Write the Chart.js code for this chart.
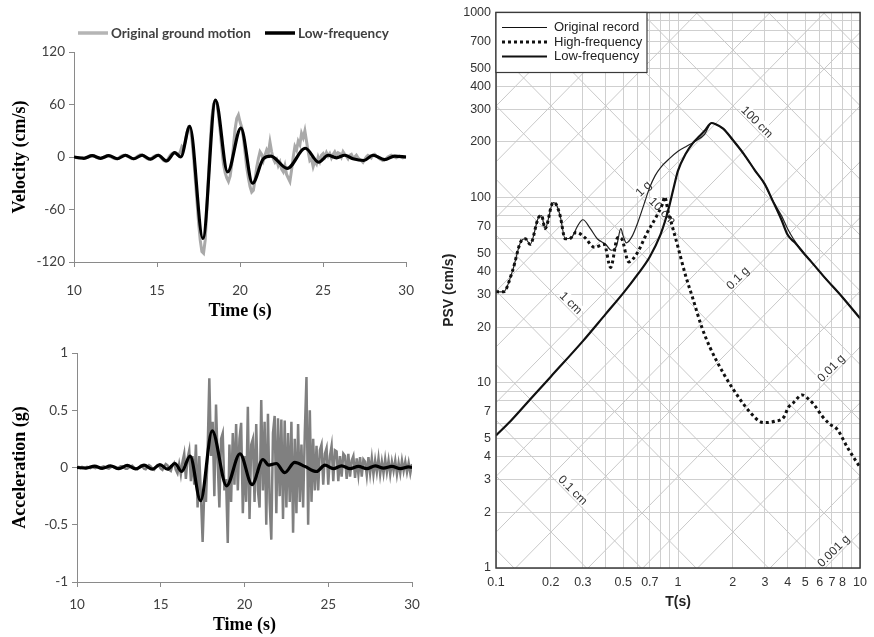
<!DOCTYPE html>
<html>
<head>
<meta charset="utf-8">
<script src="https://cdn.jsdelivr.net/npm/chart.js@4.4.1/dist/chart.umd.min.js"></script>
<style>
    html, body { margin: 0; padding: 0; background: #fff; }
    #wrap { position: relative; width: 874px; height: 637px; overflow: hidden; }
    canvas { position: absolute; }
    #velChart { left: 0; top: 0; }
    #accChart { left: 0; top: 325px; }
    #psvChart { left: 430px; top: 0; }
</style>
</head>
<body>
<div id="wrap">
    <canvas id="velChart" width="430" height="325"></canvas>
    <canvas id="accChart" width="430" height="312"></canvas>
    <canvas id="psvChart" width="444" height="637"></canvas>
</div>
<script>
// ---- time histories (sampled every 0.1 s from 10 s) ----
const sampleStart = 10;
const sampleStep = 0.1;

const velOriginal = [
    0, -0.5, -1, -1.5, -1.5, -1, -1.5, -1, 0, 1,
    1.5, 1.5, 1, 0, -1, -1.5, -1.5, -1, 0, 1,
    1.5, 1.5, 0.5, -0.5, -1.5, -2, -2, -1, 0.5, 1.5,
    2, 2, 1, 0, -1, -2, -2, -1, 0.5, 1.5,
    2.5, 2.5, 1, -0.5, -2, -2.5, -2.5, -1, 0.5, 1.5,
    2, 2, 0, -2, -4, -5, -4, -1, 2, 4,
    5, 5, 3, 2, 6, 12, 10, 18, 28, 34,
    33, 20, 0, -25, -50, -75, -95, -108, -110, -95,
    -60, -20, 15, 45, 60, 64, 62, 48, 30, 10,
    -8, -18, -24, -28, -22, -8, 12, 32, 44, 48,
    40, 34, 22, 5, -12, -24, -34, -40, -38, -26,
    -12, -2, 6, 3, -4, 2, 8, 4, 17, 6,
    -2, -6, -3, -10, -6, -14, -17, -10, -20, -24,
    -28, -15, 0, 12, 8, 18, 14, 27, 22, 30,
    18, 6, -4, -2, -11, -5, -8, 0, -5, 2,
    4, 0, 5, 1, 4, -1, 3, 6, 2, 5,
    4, 0, 6, 3, 1, -2, 2, 3, -1, 0,
    2, -1, -3, -4, -6, -3, 0, 2, 1, -1,
    2, 3, 1, 0, -2, -3, -4, -3, -2, 0,
    1, 2, 1, 0, -1, 0, 1, 0, -1, 0,
    0
];

const accOriginal = [
    0, 0.005, -0.005, 0.005, 0, -0.005, 0.005, 0, -0.005, 0.005,
    0, -0.005, 0.005, 0, -0.005, 0.005, 0.01, 0, -0.005, -0.01,
    0, 0.01, 0.005, -0.005, -0.01, 0, 0.01, 0.01, 0, -0.01,
    -0.01, 0, 0.01, 0.015, 0, -0.01, -0.015, 0, 0.015, 0.01,
    -0.01, -0.015, 0.005, 0.02, 0.01, -0.01, -0.02, 0, 0.02, 0.015,
    -0.01, -0.02, 0.01, 0.03, 0.02, -0.02, -0.03, 0.02, 0.04, -0.02,
    -0.05, 0.03, -0.06, 0.05, 0.12, -0.1, 0.08, 0.15, -0.12, 0.1,
    -0.15, 0.2, -0.35, 0.1, -0.25, -0.65, -0.2, -0.3, 0.15, 0.78,
    0.1, 0.4, -0.25, 0.55, 0.05, -0.35, 0.25, 0.3, -0.2, -0.1,
    -0.66, 0.2, -0.3, 0.3, -0.15, 0.38, -0.2, 0.25, 0.39, -0.4,
    0.1, -0.3, 0.53, -0.45, 0.2, 0.25, -0.3, 0.38, -0.2, -0.35,
    0.59, -0.2, 0.4, -0.5, 0.47, -0.3, -0.63, 0.3, 0.45, -0.4,
    0.43, -0.25, 0.42, -0.45, 0.41, -0.35, 0.3, -0.3, 0.4, -0.57,
    0.25, -0.4, 0.38, -0.3, 0.2, -0.35, 0.3, 0.79, -0.5, 0.5,
    -0.3, 0.25, -0.2, 0.19, -0.2, 0.15, 0.2, -0.15, 0.12, 0.17,
    -0.15, 0.1, 0.19, -0.12, 0.15, 0.14, -0.12, 0.1, -0.08, 0.12,
    0.1, -0.1, 0.12, -0.08, 0.06, 0.1, -0.09, 0.08, -0.06, 0.09,
    -0.08, 0.07, 0.05, -0.07, 0.09, -0.05, 0.08, -0.06, 0.06, -0.04,
    0.08, -0.06, 0.05, -0.05, 0.07, -0.04, 0.06, -0.06, 0.05, -0.03,
    0.06, -0.06, 0.04, -0.05, 0.06, -0.03, 0.05, -0.04, 0.04, -0.05,
    0.03
];

// low-frequency components (turning points)
const velLowTime = [10, 10.6, 11.1, 11.6, 12.1, 12.6, 13.1, 13.6, 14.1, 14.6, 15.07, 15.57, 16.07, 16.43,
    16.97, 17.76, 18.52, 19.25, 20.05, 20.75, 21.4, 21.85, 22.84, 23.93, 24.73, 25.3, 25.8, 26.3,
    26.8, 27.45, 28.0, 28.7, 29.3, 30];
const velLow = [0, -1.5, 1.5, -1.5, 1.5, -2, 2, -2, 2, -2.5, 2, -4.5, 5, 0,
    35, -93, 65, -17, 33, -30, -2, 1, -13, 10, -6, 2, -1, 2,
    -2, -4, 2, -3, 1, 0];

const accLowTime = [10, 10.55, 11.05, 11.5, 12.0, 12.5, 13.0, 13.5, 14.0, 14.5, 14.95, 15.4, 15.85, 16.25,
    16.75, 17.38, 18.07, 18.93, 19.73, 20.45, 21.1, 21.45, 21.9, 22.4, 23.0, 23.6, 24.3, 24.8,
    25.3, 25.8, 26.3, 26.8, 27.3, 27.8, 28.3, 28.8, 29.3, 29.8, 30];
const accLow = [0, -0.005, 0.012, -0.008, 0.015, -0.01, 0.018, -0.012, 0.02, -0.015, 0.025, -0.015, 0.035, -0.035,
    0.1, -0.29, 0.32, -0.16, 0.12, -0.15, 0.07, 0.02, 0.035, -0.045, 0.045, 0.01, -0.035, 0.02,
    -0.01, 0.015, -0.01, 0.01, -0.01, 0.015, -0.005, 0.01, -0.01, 0.005, 0];

const timeTicks = [10, 15, 20, 25, 30];
const velTicks = [-120, -60, 0, 60, 120];
const accTicks = [-1, -0.5, 0, 0.5, 1];

// ---- pseudo-velocity spectra ----
const origPeriod = [0.1, 0.11, 0.123, 0.137, 0.145, 0.154, 0.171, 0.178, 0.186, 0.206, 0.214, 0.225, 0.24, 0.26,
    0.28, 0.3, 0.33, 0.36, 0.4, 0.43, 0.46, 0.485, 0.5, 0.52, 0.56, 0.6, 0.65, 0.7, 0.75, 0.8, 0.9, 1.0,
    1.12, 1.25, 1.4, 1.53, 1.6, 1.77, 2.0, 2.3, 2.65, 3.0, 3.3, 3.7, 4.0, 4.3, 4.7, 5.4, 6.4, 8.0, 10];
const origPSV = [31, 31, 40, 58, 60, 56, 78, 80, 68, 94, 92, 80, 60, 61,
    70, 76, 68, 60, 56, 52, 55, 68, 62, 57, 62, 73, 92, 114, 132, 145, 163, 178,
    190, 202, 220, 253, 250, 236, 205, 172, 140, 118, 97, 80, 68, 60, 53, 45, 37, 29, 22.3];

const highPeriod = [0.1, 0.11, 0.123, 0.137, 0.145, 0.154, 0.171, 0.178, 0.186, 0.206, 0.214, 0.225, 0.24, 0.253,
    0.276, 0.307, 0.347, 0.393, 0.426, 0.467, 0.49, 0.536, 0.595, 0.673, 0.76, 0.82, 0.846, 0.88, 0.93,
    1.0, 1.1, 1.2, 1.35, 1.5, 1.8, 2.2, 2.5, 2.8, 3.0, 3.4, 3.8, 4.05, 4.3, 4.8, 5.2, 5.6, 6.2, 6.8,
    7.5, 8.5, 9.3, 10];
const highPSV = [31, 31, 40, 58, 60, 56, 78, 80, 68, 94, 92, 80, 60, 60,
    65, 61, 54, 56, 42, 61, 60, 45, 50, 64, 79, 92, 101, 85, 70,
    54, 38, 29, 20, 15.5, 11, 8.1, 6.9, 6.2, 6.1, 6.2, 6.5, 7.4, 7.8, 8.6, 8.2, 7.6, 6.6, 6.0,
    5.6, 4.5, 3.9, 3.5];

const lowPeriod = [0.1, 0.12, 0.15, 0.2, 0.3, 0.4, 0.5, 0.6, 0.7, 0.8, 0.85, 0.9, 0.95, 1.0, 1.1, 1.2, 1.3,
    1.4, 1.53, 1.6, 1.77, 2.0, 2.3, 2.65, 3.0, 3.3, 3.7, 4.0, 4.4, 5.0, 5.4, 6.4, 8.0, 10];
const lowPSV = [5.2, 6.2, 7.9, 10.8, 16.8, 23.5, 30.5, 38.5, 48, 63, 75, 92, 115, 140, 172, 196, 213,
    230, 253, 250, 236, 205, 172, 140, 118, 97, 76, 63, 57, 49, 45, 37, 29, 22.3];

const periodLabels = [0.1, 0.2, 0.3, 0.5, 0.7, 1, 2, 3, 4, 5, 6, 7, 8, 10];
const psvLabels = [1, 2, 3, 4, 5, 7, 10, 20, 30, 40, 50, 70, 100, 200, 300, 400, 500, 700, 1000];
const dispLevels = [0.02, 0.05, 0.1, 0.2, 0.5, 1, 2, 5, 10, 20, 50, 100, 200, 500, 1000];   // cm
const accelLevels = [0.001, 0.002, 0.005, 0.01, 0.02, 0.05, 0.1, 0.2, 0.5, 1, 2, 5, 10, 20, 50]; // g

// --------------------------------------------------------------
const G = 981;
const TWO_PI = 2 * Math.PI;

function sampled(values) {
    return values.map((v, i) => ({ x: sampleStart + i * sampleStep, y: v }));
}
function paired(xs, ys) {
    return xs.map((x, i) => ({ x: x, y: ys[i] }));
}

// every integer multiple inside each decade, for the grid
function decadeGrid(min, max) {
    const out = [];
    for (let d = min; d < max; d *= 10) {
        for (let k = 1; k <= 9; k++) out.push(+(k * d).toPrecision(3));
    }
    out.push(max);
    return out;
}

const lineLegend = {
    id: 'lineLegend',
    afterDraw(chart, args, opts) {
        if (!opts.items) return;
        const ctx = chart.ctx;
        ctx.save();
        ctx.font = opts.font;
        ctx.textBaseline = 'middle';
        opts.items.forEach(it => {
            const ds = chart.data.datasets[it.ds];
            ctx.strokeStyle = it.color || ds.borderColor;
            ctx.lineWidth = it.width;
            ctx.beginPath();
            ctx.moveTo(it.x, opts.y);
            ctx.lineTo(it.x + opts.sample, opts.y);
            ctx.stroke();
            ctx.fillStyle = opts.color;
            ctx.fillText(ds.label, it.x + opts.sample + opts.gap, opts.y + 1);
        });
        ctx.restore();
    }
};

function timeChart(id, cfg) {
    const axisColor = '#8a8a8a';
    return new Chart(document.getElementById(id), {
        type: 'line',
        data: {
            datasets: [{
                label: 'Low-frequency',
                data: cfg.low,
                borderColor: '#000',
                borderWidth: 3.2,
                pointRadius: 0,
                cubicInterpolationMode: 'monotone',
                fill: false
            }, {
                label: 'Original ground motion',
                data: cfg.orig,
                borderColor: cfg.grey,
                borderWidth: cfg.greyWidth,
                pointRadius: 0,
                tension: 0,
                fill: false
            }]
        },
        options: {
            responsive: false,
            animation: false,
            events: [],
            layout: { padding: cfg.padding },
            plugins: {
                legend: { display: false },
                tooltip: { enabled: false },
                lineLegend: cfg.legend || {}
            },
            scales: {
                x: {
                    type: 'linear',
                    min: 10,
                    max: 30,
                    afterBuildTicks: s => { s.ticks = timeTicks.map(v => ({ value: v })); },
                    afterFit: s => { s.height = cfg.xHeight; },
                    grid: { drawOnChartArea: false, tickLength: 5, color: axisColor },
                    border: { display: true, color: axisColor, width: 1 },
                    ticks: { padding: cfg.xPad, color: '#404040', font: { family: 'Lato', size: 13.5 } },
                    title: {
                        display: true,
                        text: 'Time (s)',
                        color: '#000',
                        font: { family: 'Liberation Serif', size: 18, weight: 'bold' },
                        padding: { top: 0, bottom: cfg.xTitlePad }
                    }
                },
                y: {
                    min: cfg.ticks[0],
                    max: cfg.ticks[cfg.ticks.length - 1],
                    afterBuildTicks: s => { s.ticks = cfg.ticks.map(v => ({ value: v })); },
                    afterFit: s => { s.width = cfg.yWidth; },
                    grid: { drawOnChartArea: false, tickLength: 5, color: axisColor },
                    border: { display: true, color: axisColor, width: 1 },
                    ticks: {
                        padding: 4,
                        color: '#404040',
                        font: { family: 'Lato', size: 13.5 },
                        callback: v => String(v)
                    },
                    title: {
                        display: true,
                        text: cfg.title,
                        color: '#000',
                        font: { family: 'Liberation Serif', size: 18, weight: 'bold' },
                        padding: { top: 10, bottom: 0 }
                    }
                }
            }
        },
        plugins: [lineLegend]
    });
}

timeChart('velChart', {
    low: paired(velLowTime, velLow),
    orig: sampled(velOriginal),
    grey: '#a9a9a9',
    greyWidth: 3,
    ticks: velTicks,
    title: 'Velocity (cm/s)',
    padding: { top: 52, right: 20, left: 0, bottom: 0 },
    yWidth: 74,
    xHeight: 63,
    xPad: 16,
    xTitlePad: 3,
    legend: {
        y: 33,
        sample: 30,
        gap: 3,
        font: 'bold 13.5px Lato',
        color: '#404040',
        items: [{ ds: 1, x: 78, width: 3.5, color: '#b5b5b5' }, { ds: 0, x: 265, width: 3.5 }]
    }
});

timeChart('accChart', {
    low: paired(accLowTime, accLow),
    orig: sampled(accOriginal),
    grey: '#808080',
    greyWidth: 2.5,
    ticks: accTicks,
    title: 'Acceleration (g)',
    padding: { top: 28, right: 18, left: 0, bottom: 0 },
    yWidth: 77,
    xHeight: 55,
    xPad: 10,
    xTitlePad: 1
});

// ---- tripartite spectrum ----
const diagLabels = [
    { text: '100 cm', kind: 'disp', level: 100, at: 2.58 },
    { text: '10 cm', kind: 'disp', level: 10, at: 0.78 },
    { text: '1 cm', kind: 'disp', level: 1, at: 0.245 },
    { text: '0.1 cm', kind: 'disp', level: 0.1, at: 0.251 },
    { text: '1 g', kind: 'acc', level: 1, at: 0.68 },
    { text: '0.1 g', kind: 'acc', level: 0.1, at: 2.24 },
    { text: '0.01 g', kind: 'acc', level: 0.01, at: 7.3 },
    { text: '0.001 g', kind: 'acc', level: 0.001, at: 7.52 }
];

function psvOf(kind, level, T) {
    return kind === 'disp' ? TWO_PI * level / T : level * G * T / TWO_PI;
}

const tripartite = {
    id: 'tripartite',
    beforeDatasetsDraw(chart) {
        const { ctx, chartArea: a, scales: { x, y } } = chart;
        const px = (kind, level, T) => ({ x: x.getPixelForValue(T), y: y.getPixelForValue(psvOf(kind, level, T)) });
        ctx.save();
        ctx.beginPath();
        ctx.rect(a.left, a.top, a.right - a.left, a.bottom - a.top);
        ctx.clip();
        ctx.strokeStyle = '#c9c9c9';
        ctx.lineWidth = 1;
        [['disp', dispLevels], ['acc', accelLevels]].forEach(([kind, levels]) => {
            levels.forEach(lv => {
                const p0 = px(kind, lv, 0.1), p1 = px(kind, lv, 10);
                ctx.beginPath();
                ctx.moveTo(p0.x, p0.y);
                ctx.lineTo(p1.x, p1.y);
                ctx.stroke();
            });
        });
        ctx.font = '12px "Liberation Sans", Arial';
        ctx.textAlign = 'center';
        ctx.textBaseline = 'alphabetic';
        diagLabels.forEach(lb => {
            const p = px(lb.kind, lb.level, lb.at);
            const ang = lb.kind === 'disp' ? Math.PI / 4 : -Math.PI / 4;
            const w = ctx.measureText(lb.text).width;
            ctx.save();
            ctx.translate(p.x, p.y);
            ctx.rotate(ang);
            ctx.fillStyle = '#fff';
            ctx.fillRect(-w / 2 - 1, -12, w + 2, 11);
            ctx.fillStyle = '#333';
            ctx.fillText(lb.text, 0, -2);
            ctx.restore();
        });
        ctx.restore();
    },
    afterDraw(chart) {
        const { ctx, chartArea: a } = chart;
        ctx.save();
        ctx.strokeStyle = '#3a3a3a';
        ctx.lineWidth = 1.5;
        ctx.strokeRect(a.left, a.top, a.right - a.left, a.bottom - a.top);

        // legend box in the upper-left corner
        const bx = a.left, by = a.top, bw = 151, bh = 60;
        ctx.fillStyle = '#fff';
        ctx.fillRect(bx, by, bw, bh);
        ctx.lineWidth = 1.2;
        ctx.strokeRect(bx, by, bw, bh);
        ctx.font = '13px "Liberation Sans", Arial';
        ctx.textBaseline = 'middle';
        const rows = [2, 1, 0];
        rows.forEach((di, r) => {
            const ds = chart.data.datasets[di];
            const yy = by + 15 + r * 14.5;
            ctx.strokeStyle = '#111';
            ctx.lineWidth = ds.borderWidth;
            ctx.setLineDash(ds.borderDash || []);
            ctx.beginPath();
            ctx.moveTo(bx + 6, yy);
            ctx.lineTo(bx + 51, yy);
            ctx.stroke();
            ctx.setLineDash([]);
            ctx.fillStyle = '#222';
            ctx.fillText(ds.label, bx + 58, yy);
        });
        ctx.restore();
    }
};

const periodGrid = decadeGrid(0.1, 10);
const psvGrid = decadeGrid(1, 1000);

new Chart(document.getElementById('psvChart'), {
    type: 'line',
    data: {
        datasets: [{
            label: 'Low-frequency',
            data: paired(lowPeriod, lowPSV),
            borderColor: '#111',
            borderWidth: 2.2,
            pointRadius: 0,
            cubicInterpolationMode: 'monotone'
        }, {
            label: 'High-frequency',
            data: paired(highPeriod, highPSV),
            borderColor: '#111',
            borderWidth: 3,
            borderDash: [3, 3],
            pointRadius: 0,
            cubicInterpolationMode: 'monotone'
        }, {
            label: 'Original record',
            data: paired(origPeriod, origPSV),
            borderColor: '#222',
            borderWidth: 1.2,
            pointRadius: 0,
            cubicInterpolationMode: 'monotone'
        }]
    },
    options: {
        responsive: false,
        animation: false,
        events: [],
        layout: { padding: { top: 11, right: 8, left: 0, bottom: 0 } },
        plugins: { legend: { display: false }, tooltip: { enabled: false } },
        scales: {
            x: {
                type: 'logarithmic',
                min: 0.1,
                max: 10,
                afterBuildTicks: s => { s.ticks = periodGrid.map(v => ({ value: v })); },
                afterFit: s => { s.height = 69; },
                grid: { color: '#cfcfcf', drawTicks: false },
                border: { display: false },
                ticks: {
                    autoSkip: false,
                    maxRotation: 0,
                    padding: 7,
                    color: '#333',
                    font: { family: 'Liberation Sans', size: 12.5 },
                    callback: v => periodLabels.includes(v) ? String(v) : ''
                },
                title: {
                    display: true,
                    text: 'T(s)',
                    color: '#222',
                    font: { family: 'Liberation Sans', size: 14, weight: 'bold' },
                    padding: { top: 0, bottom: 26 }
                }
            },
            y: {
                type: 'logarithmic',
                min: 1,
                max: 1000,
                afterBuildTicks: s => { s.ticks = psvGrid.map(v => ({ value: v })); },
                afterFit: s => { s.width = 66; },
                grid: { color: '#cfcfcf', drawTicks: false },
                border: { display: false },
                ticks: {
                    autoSkip: false,
                    padding: 5,
                    color: '#333',
                    font: { family: 'Liberation Sans', size: 12.5 },
                    callback: v => psvLabels.includes(v) ? String(v) : ''
                },
                title: {
                    display: true,
                    text: 'PSV (cm/s)',
                    color: '#222',
                    font: { family: 'Liberation Sans', size: 14, weight: 'bold' },
                    padding: { top: 11, bottom: 0 }
                }
            }
        }
    },
    plugins: [tripartite]
});
</script>
</body>
</html>
